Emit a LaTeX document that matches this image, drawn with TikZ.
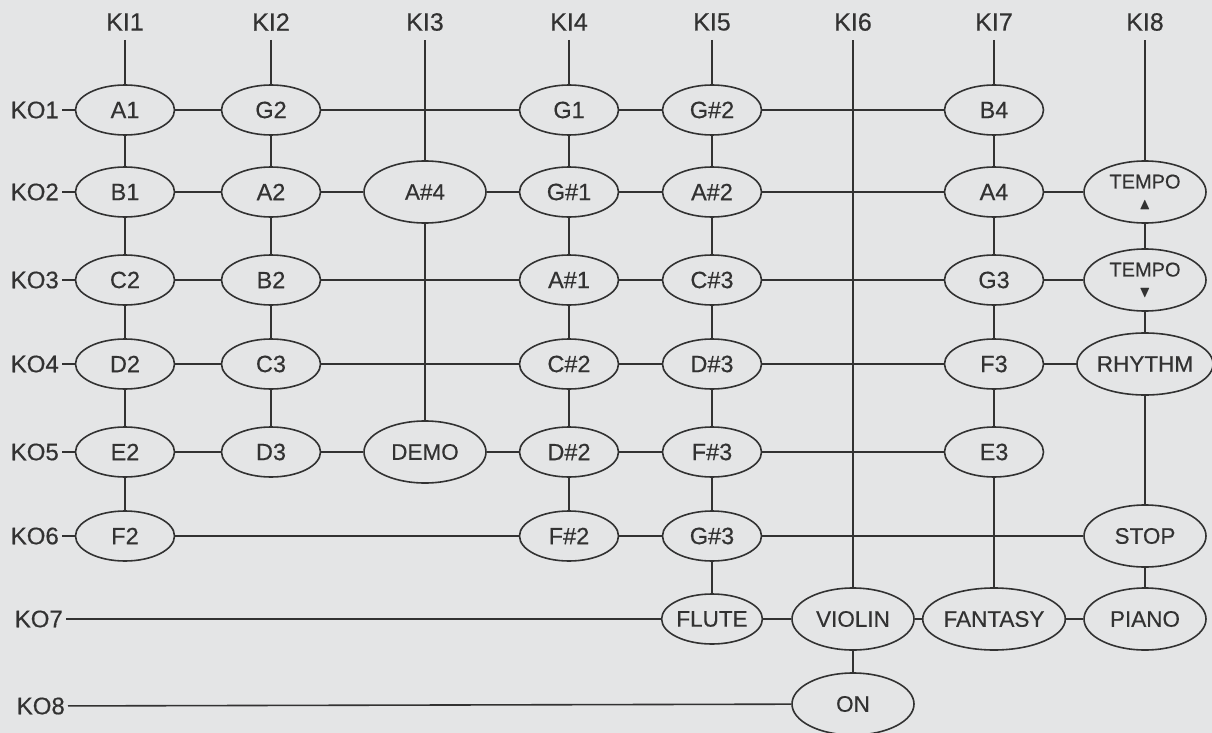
\documentclass[tikz,border=0pt]{standalone}
\usepackage{amssymb}
\usepackage{fontspec}
\setmainfont{Liberation Sans}[FakeBold=0.4]
\usetikzlibrary{shapes.geometric}
\definecolor{paper}{RGB}{228,229,230}
\definecolor{ink}{RGB}{50,50,50}

\begin{document}
\begin{tikzpicture}[
  x=1pt, y=-1pt,
  keybox/.style={
    draw=ink, ellipse, line width=1.6pt, inner sep=0pt,
    minimum width=99pt, minimum height=50pt,
    text=ink, font=\fontsize{23.5}{25}\selectfont
  },
  wordbox/.style={
    keybox, minimum width=122pt, minimum height=62pt,
    font=\fontsize{22.5}{24}\selectfont
  },
  tempobox/.style={
    wordbox, align=center, font=\fontsize{20}{20}\selectfont
  },
  kilabel/.style={
    text=ink, inner xsep=2pt, inner ysep=9pt,
    font=\fontsize{25}{27}\selectfont
  },
  kolabel/.style={
    text=ink, anchor=east, inner sep=3pt,
    font=\fontsize{24}{26}\selectfont
  },
  wire/.style={draw=ink, line width=1.6pt},
]
\useasboundingbox (0,0) rectangle (1212,733);
\fill[paper] (0,0) rectangle (1212,733);
% --- Inputs KI1..KI8 ---
\node[kilabel] (ki1) at (125,22) {KI1};
\node[kilabel] (ki2) at (271,22) {KI2};
\node[kilabel] (ki3) at (425,22) {KI3};
\node[kilabel] (ki4) at (569,22) {KI4};
\node[kilabel] (ki5) at (712,22) {KI5};
\node[kilabel] (ki6) at (853,22) {KI6};
\node[kilabel] (ki7) at (994,22) {KI7};
\node[kilabel] (ki8) at (1145,22) {KI8};
% --- Outputs KO1..KO8 ---
\node[kolabel] (ko1) at (62,110) {KO1};
\node[kolabel] (ko2) at (62,192) {KO2};
\node[kolabel] (ko3) at (62,280) {KO3};
\node[kolabel] (ko4) at (62,364) {KO4};
\node[kolabel] (ko5) at (62,452) {KO5};
\node[kolabel] (ko6) at (62,536) {KO6};
\node[kolabel] (ko7) at (66,619) {KO7};
\node[kolabel] (ko8) at (68,706) {KO8};
% --- Row KO1 ---
\node[keybox] (a1) at (125,110) {A1};
\node[keybox] (g2) at (271,110) {G2};
\node[keybox] (g1) at (569,110) {G1};
\node[keybox] (gs2) at (712,110) {G\#2};
\node[keybox] (b4) at (994,110) {B4};
% --- Row KO2 ---
\node[keybox] (b1) at (125,192) {B1};
\node[keybox] (a2) at (271,192) {A2};
\node[wordbox] (as4) at (425,192) {A\#4};
\node[keybox] (gs1) at (569,192) {G\#1};
\node[keybox] (as2) at (712,192) {A\#2};
\node[keybox] (a4) at (994,192) {A4};
\node[tempobox] (tempoup) at (1145,192)
  {TEMPO\\[1pt]{\fontsize{16}{16}\selectfont$\blacktriangle$}};
% --- Row KO3 ---
\node[keybox] (c2) at (125,280) {C2};
\node[keybox] (b2) at (271,280) {B2};
\node[keybox] (as1) at (569,280) {A\#1};
\node[keybox] (cs3) at (712,280) {C\#3};
\node[keybox] (g3) at (994,280) {G3};
\node[tempobox] (tempodn) at (1145,280)
  {TEMPO\\[1pt]{\fontsize{16}{16}\selectfont$\blacktriangledown$}};
% --- Row KO4 ---
\node[keybox] (d2) at (125,364) {D2};
\node[keybox] (c3) at (271,364) {C3};
\node[keybox] (cs2) at (569,364) {C\#2};
\node[keybox] (ds3) at (712,364) {D\#3};
\node[keybox] (f3) at (994,364) {F3};
\node[wordbox] (rhythm) at (1145,364) {RHYTHM};
% --- Row KO5 ---
\node[keybox] (e2) at (125,452) {E2};
\node[keybox] (d3) at (271,452) {D3};
\node[wordbox] (demo) at (425,452) {DEMO};
\node[keybox] (ds2) at (569,452) {D\#2};
\node[keybox] (fs3) at (712,452) {F\#3};
\node[keybox] (e3) at (994,452) {E3};
% --- Row KO6 ---
\node[keybox] (f2) at (125,536) {F2};
\node[keybox] (fs2) at (569,536) {F\#2};
\node[keybox] (gs3) at (712,536) {G\#3};
\node[wordbox] (stop) at (1145,536) {STOP};
% --- Row KO7 ---
\node[keybox, font=\fontsize{22.5}{24}\selectfont] (flute) at (712,619) {FLUTE};
\node[wordbox] (violin) at (853,619) {VIOLIN};
\node[wordbox] (fantasy) at (994,619) {FANTASY};
\node[wordbox] (piano) at (1145,619) {PIANO};
% --- Row KO8 ---
\node[wordbox] (on) at (853,704) {ON};
% --- Row wires ---
\draw[wire] (ko1) -- (a1) -- (g2) -- (g1) -- (gs2) -- (b4);
\draw[wire] (ko2) -- (b1) -- (a2) -- (as4) -- (gs1) -- (as2) -- (a4) -- (tempoup);
\draw[wire] (ko3) -- (c2) -- (b2) -- (as1) -- (cs3) -- (g3) -- (tempodn);
\draw[wire] (ko4) -- (d2) -- (c3) -- (cs2) -- (ds3) -- (f3) -- (rhythm);
\draw[wire] (ko5) -- (e2) -- (d3) -- (demo) -- (ds2) -- (fs3) -- (e3);
\draw[wire] (ko6) -- (f2) -- (fs2) -- (gs3) -- (stop);
\draw[wire] (ko7) -- (flute) -- (violin) -- (fantasy) -- (piano);
\draw[wire] (ko8) -- (on);
% --- Column wires ---
\draw[wire] (ki1) -- (a1) -- (b1) -- (c2) -- (d2) -- (e2) -- (f2);
\draw[wire] (ki2) -- (g2) -- (a2) -- (b2) -- (c3) -- (d3);
\draw[wire] (ki3) -- (as4) -- (demo);
\draw[wire] (ki4) -- (g1) -- (gs1) -- (as1) -- (cs2) -- (ds2) -- (fs2);
\draw[wire] (ki5) -- (gs2) -- (as2) -- (cs3) -- (ds3) -- (fs3) -- (gs3) -- (flute);
\draw[wire] (ki6) -- (violin) -- (on);
\draw[wire] (ki7) -- (b4) -- (a4) -- (g3) -- (f3) -- (e3) -- (fantasy);
\draw[wire] (ki8) -- (tempoup) -- (tempodn) -- (rhythm) -- (stop) -- (piano);
\end{tikzpicture}
\end{document}
